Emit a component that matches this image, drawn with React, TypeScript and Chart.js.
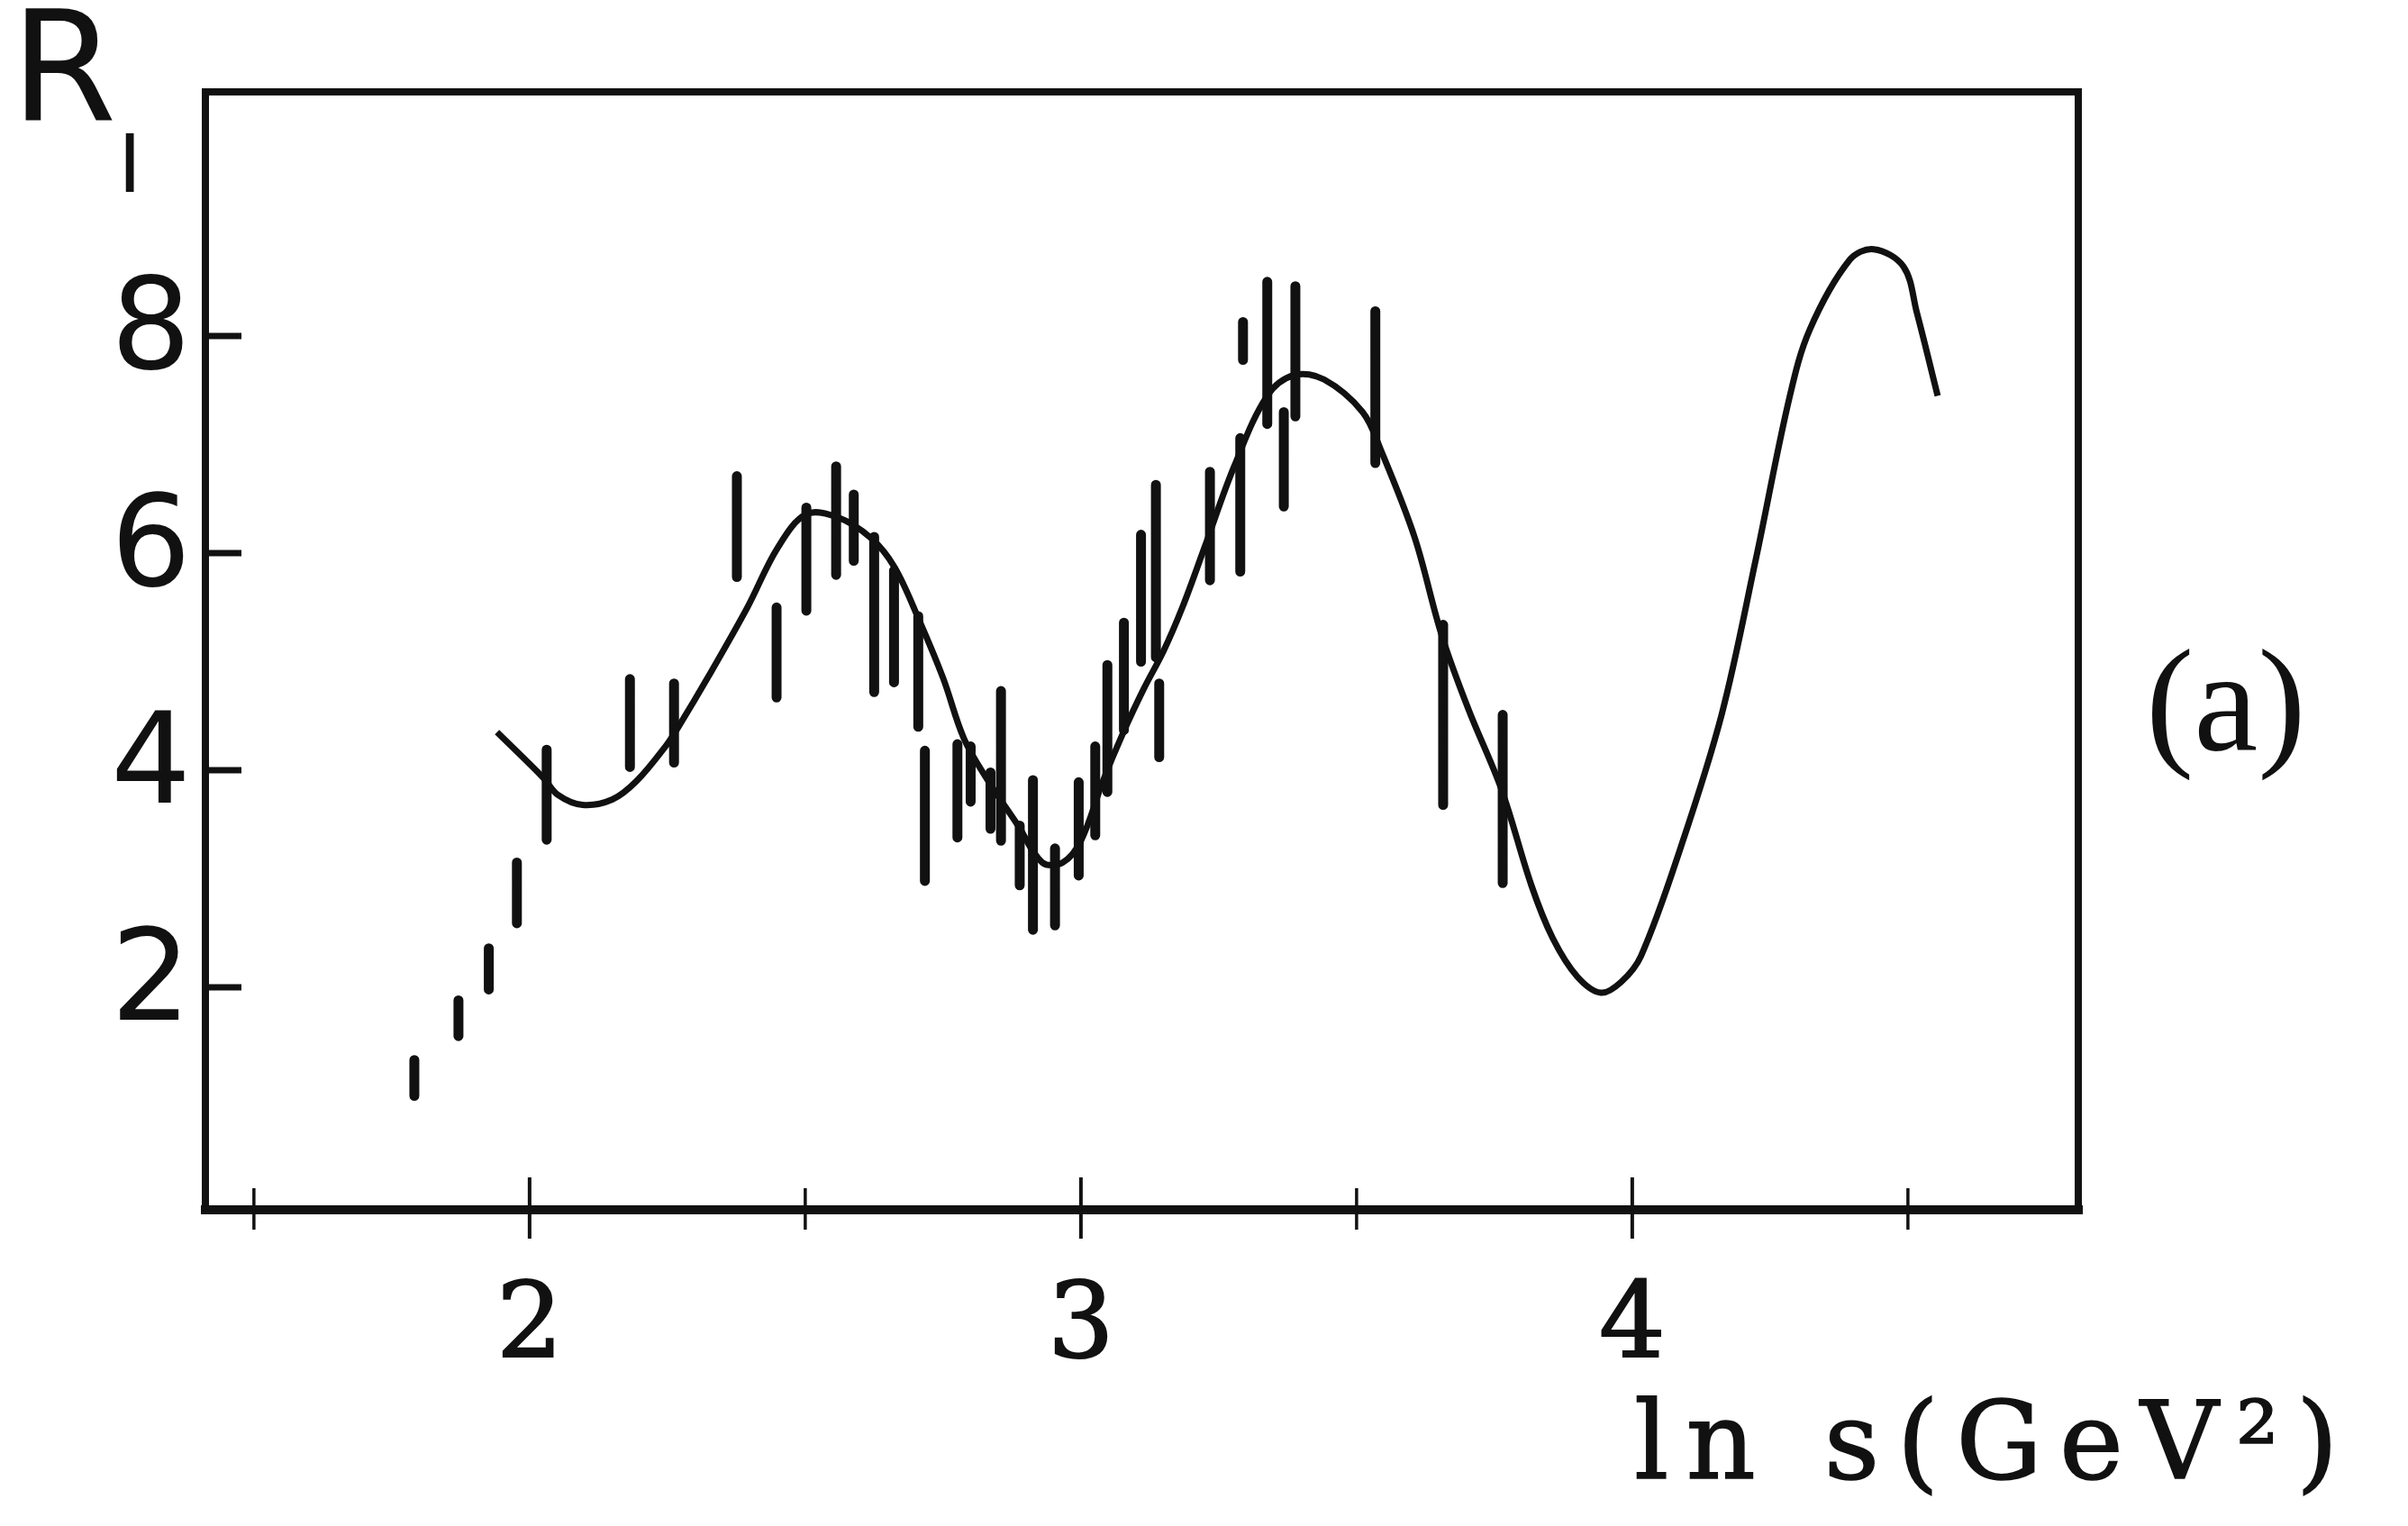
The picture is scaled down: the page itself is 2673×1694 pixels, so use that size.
import React, { useEffect, useRef } from "react";
import { Chart, registerables } from "chart.js";

Chart.register(...registerables);

// ---- Data ----
// Fitted (solid) curve
const fitX = [1.941, 2.025, 2.052, 2.096, 2.15, 2.194, 2.248, 2.27, 2.325, 2.395, 2.45, 2.502, 2.559, 2.619, 2.662, 2.706, 2.75, 2.788, 2.832, 2.886, 2.93, 2.967, 3.0, 3.04, 3.077, 3.114, 3.15, 3.184, 3.224, 3.278, 3.338, 3.387, 3.441, 3.511, 3.544, 3.605, 3.654, 3.703, 3.763, 3.817, 3.856, 3.9, 3.943, 3.98, 4.016, 4.088, 4.162, 4.224, 4.285, 4.322, 4.394, 4.438, 4.492, 4.516, 4.554];
const fitY = [4.35, 3.93, 3.77, 3.68, 3.73, 3.9, 4.23, 4.4, 4.87, 5.5, 6.05, 6.36, 6.33, 6.14, 5.87, 5.39, 4.85, 4.29, 3.9, 3.49, 3.15, 3.15, 3.35, 3.9, 4.35, 4.75, 5.1, 5.5, 6.05, 6.8, 7.45, 7.64, 7.6, 7.3, 6.95, 6.15, 5.25, 4.56, 3.82, 2.94, 2.45, 2.1, 1.95, 2.05, 2.29, 3.29, 4.51, 5.94, 7.43, 8.06, 8.7, 8.8, 8.64, 8.22, 7.45];

// Measurements: vertical error bars (x, low, high)
const errX = [1.791, 1.871, 1.926, 1.977, 2.031, 2.182, 2.262, 2.376, 2.448, 2.502, 2.556, 2.588, 2.625, 2.661, 2.705, 2.717, 2.776, 2.8, 2.836, 2.855, 2.889, 2.913, 2.953, 2.996, 3.026, 3.048, 3.078, 3.109, 3.136, 3.142, 3.234, 3.289, 3.294, 3.338, 3.368, 3.389, 3.534, 3.657, 3.765];
const errLo = [1.0, 1.55, 1.98, 2.59, 3.36, 4.03, 4.07, 5.78, 4.67, 5.47, 5.8, 5.93, 4.72, 4.81, 4.4, 2.98, 3.38, 3.71, 3.46, 3.35, 2.94, 2.53, 2.57, 3.03, 3.4, 3.8, 4.37, 5.0, 5.04, 4.12, 5.75, 5.83, 7.78, 7.19, 6.43, 7.26, 6.83, 3.68, 2.96];
const errHi = [1.33, 1.88, 2.36, 3.15, 4.19, 4.84, 4.8, 6.71, 5.5, 6.42, 6.8, 6.54, 6.15, 5.84, 5.42, 4.18, 4.24, 4.22, 3.98, 4.73, 3.49, 3.91, 3.28, 3.89, 4.22, 4.97, 5.36, 6.17, 6.63, 4.8, 6.75, 7.06, 8.13, 8.5, 7.3, 8.46, 8.23, 5.34, 4.51];

// Axes
const yTickValues = [2, 4, 6, 8];
const xTickValues = [2, 3, 4];
const xMinorTickValues = [1.5, 2.5, 3.5, 4.5];
const X_MIN = 1.412;
const X_MAX = 4.809;
const Y_MIN = -0.05;
const Y_MAX = 10.25;

const INK = "#111";
const SERIF = "'Liberation Serif', 'Times New Roman', Times, serif";
const WIDE_SERIF = "'DejaVu Serif', serif";

const framePlugin = {
  id: "frameAndTicks",
  afterDatasetsDraw(chart: any) {
    const { ctx, chartArea, scales } = chart;
    const { left, right, top, bottom } = chartArea;
    const x = scales.x;
    const y = scales.y;
    ctx.save();
    ctx.strokeStyle = INK;
    ctx.lineCap = "square";
    ctx.lineWidth = 8;
    ctx.beginPath();
    ctx.moveTo(left, bottom);
    ctx.lineTo(left, top);
    ctx.lineTo(right, top);
    ctx.lineTo(right, bottom);
    ctx.stroke();
    ctx.lineWidth = 10;
    ctx.beginPath();
    ctx.moveTo(left, bottom);
    ctx.lineTo(right, bottom);
    ctx.stroke();
    ctx.lineCap = "butt";
    ctx.lineWidth = 7;
    yTickValues.forEach((v) => {
      const py = y.getPixelForValue(v);
      ctx.beginPath();
      ctx.moveTo(left, py);
      ctx.lineTo(left + 40, py);
      ctx.stroke();
    });
    ctx.lineWidth = 4;
    xTickValues.forEach((v) => {
      const px = x.getPixelForValue(v);
      ctx.beginPath();
      ctx.moveTo(px, bottom - 36);
      ctx.lineTo(px, bottom + 32);
      ctx.stroke();
    });
    ctx.lineWidth = 3.5;
    xMinorTickValues.forEach((v) => {
      const px = x.getPixelForValue(v);
      ctx.beginPath();
      ctx.moveTo(px, bottom - 24);
      ctx.lineTo(px, bottom + 22);
      ctx.stroke();
    });
    ctx.restore();
  },
};

export default function App() {
  const canvasRef = useRef<HTMLCanvasElement | null>(null);

  useEffect(() => {
    const canvas = canvasRef.current;
    if (!canvas) return;
    const errData: any[] = [];
    errX.forEach((xv, i) => {
      errData.push({ x: xv, y: errLo[i] });
      errData.push({ x: xv, y: errHi[i] });
      errData.push({ x: xv, y: null });
    });
    const fitData = fitX.map((xv, i) => ({ x: xv, y: fitY[i] }));

    const chart = new Chart(canvas, {
      type: "line",
      data: {
        datasets: [
          {
            label: "data",
            data: errData,
            borderColor: INK,
            borderWidth: 11,
            borderCapStyle: "round",
            pointRadius: 0,
            spanGaps: false,
            fill: false,
          },
          {
            label: "fit",
            data: fitData,
            borderColor: INK,
            borderWidth: 7,
            tension: 0.35,
            borderJoinStyle: "round",
            pointRadius: 0,
            fill: false,
          },
        ],
      } as any,
      options: {
        animation: false,
        responsive: false,
        devicePixelRatio: 1,
        events: [],
        layout: { padding: { top: 102, right: 366, left: 0, bottom: 0 } },
        plugins: {
          legend: { display: false },
          tooltip: { enabled: false },
          title: { display: false },
        },
        scales: {
          x: {
            type: "linear",
            min: X_MIN,
            max: X_MAX,
            grid: { display: false, drawTicks: false },
            border: { display: false },
            ticks: {
              color: INK,
              font: { family: WIDE_SERIF, size: 116 },
              padding: 63,
              maxRotation: 0,
              autoSkip: false,
              textStrokeColor: INK,
              textStrokeWidth: 2,
            },
            afterBuildTicks: (s: any) => {
              s.ticks = xTickValues.map((v) => ({ value: v }));
            },
            afterFit: (s: any) => {
              s.height = 351;
            },
          },
          y: {
            type: "linear",
            min: Y_MIN,
            max: Y_MAX,
            grid: { display: false, drawTicks: false },
            border: { display: false },
            ticks: {
              color: INK,
              font: { family: "'DejaVu Sans'", size: 140 },
              padding: 16,
              autoSkip: false,
            },
            afterBuildTicks: (s: any) => {
              s.ticks = yTickValues.map((v) => ({ value: v }));
            },
            afterFit: (s: any) => {
              s.width = 228;
            },
          },
        },
      } as any,
      plugins: [framePlugin],
    });
    return () => chart.destroy();
  }, []);

  const base: React.CSSProperties = {
    position: "absolute",
    color: INK,
    lineHeight: 1,
    whiteSpace: "pre",
    margin: 0,
  };

  return (
    <div
      style={{
        position: "fixed",
        left: 0,
        top: 0,
        width: 2673,
        height: 1694,
        background: "#fff",
        overflow: "hidden",
      }}
    >
      <canvas
        ref={canvasRef}
        width={2673}
        height={1694}
        style={{ position: "absolute", left: 0, top: 0, width: 2673, height: 1694 }}
      />
      <div style={{ ...base, left: 12, top: -10, fontFamily: "'DejaVu Sans'", fontSize: 169 }}>R</div>
      <div style={{ ...base, left: 131, top: 138, fontFamily: "'DejaVu Sans'", fontSize: 89 }}>I</div>
      <div style={{ ...base, left: 2382, top: 698, fontFamily: SERIF, fontSize: 160 }}>(a)</div>
      <div
        style={{
          ...base,
          left: 1814,
          top: 1540,
          fontFamily: WIDE_SERIF,
          fontSize: 120,
          letterSpacing: 19,
          WebkitTextStroke: "1.5px #111",
        } as any}
      >
        ln s(GeV²)
      </div>
    </div>
  );
}
